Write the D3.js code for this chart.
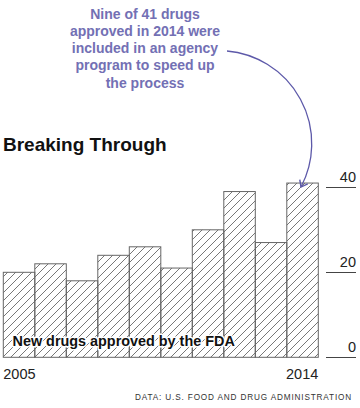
<!DOCTYPE html>
<html><head><meta charset="utf-8">
<script src="https://cdn.jsdelivr.net/npm/d3@7/dist/d3.min.js"></script>
<style>body{margin:0;background:#fff}svg{display:block}</style>
</head><body>
<script>
const years = [2005,2006,2007,2008,2009,2010,2011,2012,2013,2014];
const approvals = [20,22,18,24,26,21,30,39,27,41];
const yTicks = [0,20,40];
const xLabels = [2005,2014];
const noteLines = ["Nine of 41 drugs","approved in 2014 were","included in an agency","program to speed up","the process"];

const W=360,H=408;
const svg=d3.select("body").append("svg").attr("width",W).attr("height",H);
const font="'Liberation Sans', Arial, sans-serif";
const purple="#7370b4";

const x=d3.scaleBand().domain(years).range([3.3,318.3]).padding(0);
const y=d3.scaleLinear().domain([0,40]).range([357.3,187.3]);

const defs=svg.append("defs");
const pat=defs.append("pattern").attr("id","hatch").attr("patternUnits","userSpaceOnUse")
  .attr("width",8).attr("height",8);
pat.append("path").attr("d","M-2,2 L2,-2 M0,8 L8,0 M6,10 L10,6")
  .attr("stroke","#555").attr("stroke-width",0.8).attr("fill","none");

defs.append("marker").attr("id","arr").attr("viewBox","-7 -7 14 14")
  .attr("refX",0).attr("refY",0).attr("markerWidth",14).attr("markerHeight",14)
  .attr("markerUnits","userSpaceOnUse").attr("orient","auto")
  .append("path").attr("d","M-6,-4.5 L0,0 L-6,4.5").attr("fill","none")
  .attr("stroke","#5d59a9").attr("stroke-width",1.4);

// bars
svg.append("g").selectAll("rect").data(years).join("rect")
  .attr("x",d=>x(d)).attr("width",x.bandwidth())
  .attr("y",(d,i)=>y(approvals[i])).attr("height",(d,i)=>y(0)-y(approvals[i]))
  .attr("fill","url(#hatch)").attr("stroke","#666").attr("stroke-width",1);

// y axis right
const ya=svg.append("g");
ya.selectAll("line").data(yTicks).join("line")
  .attr("x1",326).attr("x2",356).attr("y1",d=>Math.round(y(d))+0.5).attr("y2",d=>Math.round(y(d))+0.5)
  .attr("stroke","#444").attr("stroke-width",1);
ya.selectAll("text").data(yTicks).join("text")
  .attr("x",356).attr("y",d=>y(d)-5).attr("text-anchor","end")
  .attr("font-family",font).attr("font-size",14.5).attr("fill","#222").text(d=>d);

// x labels
svg.append("g").selectAll("text").data(xLabels).join("text")
  .attr("x",(d,i)=> i===0 ? x(d) : x(d)+x.bandwidth())
  .attr("y",379).attr("text-anchor",(d,i)=>i===0?"start":"end")
  .attr("font-family",font).attr("font-size",14.5).attr("fill","#222").text(d=>d);

// inner label
svg.append("text").attr("x",12.5).attr("y",346).attr("font-family",font)
  .attr("font-size",14.4).attr("font-weight","bold").attr("fill","#111")
  .attr("stroke","#fff").attr("stroke-width",3).attr("paint-order","stroke")
  .attr("stroke-linejoin","round").text("New drugs approved by the FDA");

// title
svg.append("text").attr("x",3).attr("y",150.5).attr("font-family",font)
  .attr("font-size",19).attr("font-weight","bold").attr("fill","#111").text("Breaking Through");

// source
svg.append("text").attr("x",352).attr("y",400).attr("text-anchor","end").attr("font-family",font)
  .attr("font-size",8.2).attr("letter-spacing",0.85).attr("fill","#333").text("DATA: U.S. FOOD AND DRUG ADMINISTRATION");

// annotation
svg.append("g").selectAll("text").data(noteLines).join("text")
  .attr("x",145).attr("y",(d,i)=>18.5+i*17.25).attr("text-anchor","middle")
  .attr("font-family",font).attr("font-size",14).attr("font-weight","bold").attr("fill",purple).text(d=>d);

const tip=[x(2014)+x.bandwidth()*0.45, y(approvals[9])+4];
svg.append("path").attr("d",`M227,51 A93,93 0 0 1 ${tip[0]},${tip[1]}`)
  .attr("fill","none").attr("stroke","#5d59a9").attr("stroke-width",1.3).attr("marker-end","url(#arr)");
</script>
</body></html>
